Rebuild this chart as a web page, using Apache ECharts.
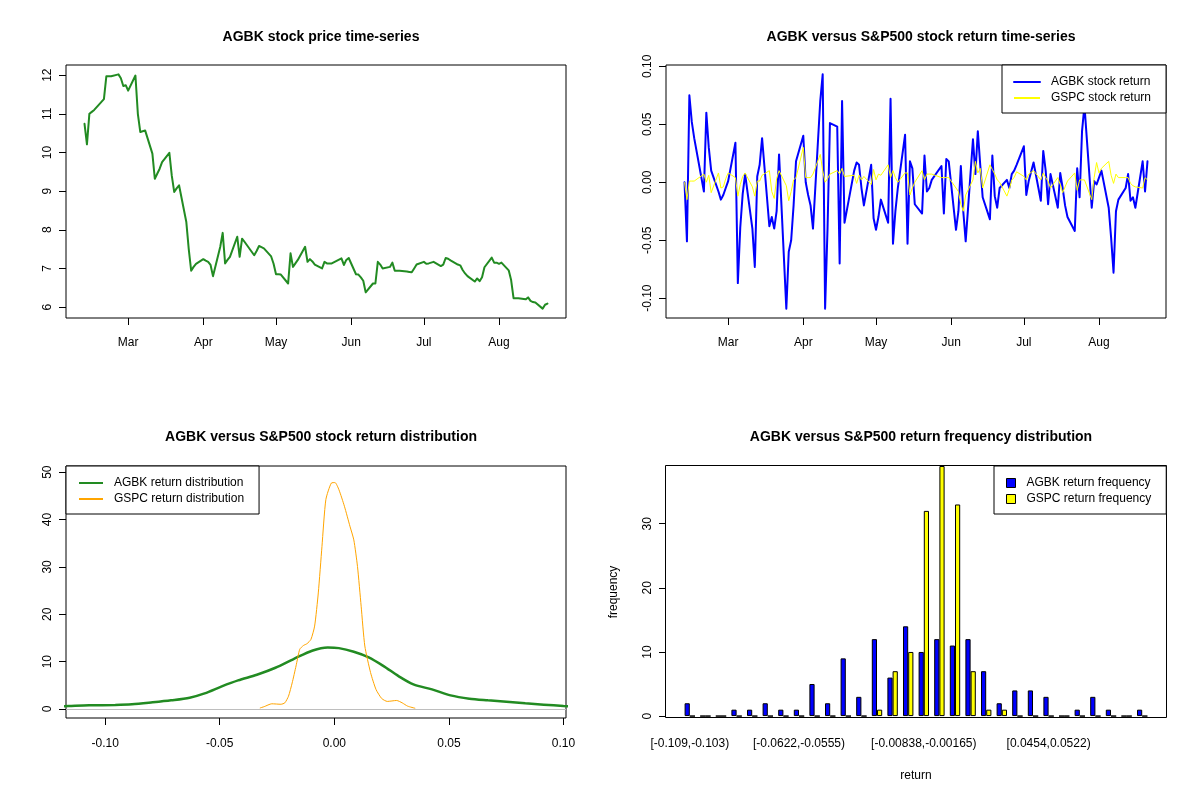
<!DOCTYPE html>
<html>
<head>
<meta charset="utf-8">
<title>AGBK vs S&amp;P500</title>
<script src="https://cdn.jsdelivr.net/npm/echarts@6/dist/echarts.min.js"></script>
<style>
  html, body { margin: 0; padding: 0; background: #fff; }
  #chart { width: 1200px; height: 800px; }
</style>
</head>
<body>
<div id="chart"></div>
<script>
// trading calendar
const firstDay = '2019-02-11';
const lastDay = '2019-08-21';
const holidays = ['2019-02-18', '2019-04-19', '2019-05-27', '2019-07-04'];
const monthTicks = ['2019-03-01', '2019-04-01', '2019-05-01', '2019-06-01', '2019-07-01', '2019-08-01'];
const monthLabels = ['Mar', 'Apr', 'May', 'Jun', 'Jul', 'Aug'];

// AGBK close price, one per trading day
const agbkPrice = [
  10.74, 10.21, 11.00, 11.05, 11.10, 11.38, 11.97, 11.97, 11.97, 12.02, 11.92, 11.72, 11.74,
  11.60, 11.99, 11.00, 10.53, 10.55, 10.57, 9.97, 9.32, 9.45, 9.58, 9.75, 9.99, 9.40, 8.98, 9.07, 9.15, 8.20, 7.50, 6.94, 7.04, 7.12,
  7.24, 7.20, 7.17, 7.09, 6.80, 7.56, 7.92, 7.13, 7.22, 7.30, 7.82, 7.30, 7.77, 7.69, 7.34, 7.45, 7.58, 7.55, 7.52, 7.31, 7.12,
  6.85, 6.85, 6.84, 6.61, 7.39, 7.04, 7.13, 7.22, 7.56, 7.17, 7.24, 7.18, 7.10, 7.00, 7.17, 7.13, 7.13, 7.13, 7.26, 7.09, 7.22, 7.27,
  6.85, 6.84, 6.77, 6.68, 6.38, 6.61, 6.61, 7.17, 7.10, 7.00, 7.04, 7.15, 6.94, 6.94, 6.94, 6.92, 6.91, 6.90, 7.00, 7.10,
  7.17, 7.12, 7.13, 7.17, 7.06, 7.10, 7.27, 7.25, 7.21, 7.10, 7.08, 6.96, 6.87, 6.80, 6.66, 6.74, 6.67, 6.77, 7.03, 7.28, 7.15, 7.15,
  7.12, 7.15, 6.95, 6.70, 6.23, 6.23, 6.23, 6.20, 6.25, 6.16, 6.13, 6.12, 5.96, 6.06, 6.09
];

// daily returns
const agbkReturn = [
  0, -0.051, 0.075, 0.052, 0.038, -0.008, 0.060, 0.030, 0.010, -0.008, -0.015, -0.011, -0.005,
  0.001, 0.034, -0.087, -0.039, -0.010, 0.007, -0.040, -0.073, 0.005, 0.015, 0.038, -0.038, -0.030, -0.040, -0.025, 0.024, -0.109, -0.060, -0.050, -0.020, 0.018,
  0.040, 0.000, -0.011, -0.020, -0.040, 0.070, 0.093, -0.109, -0.040, 0.051, 0.048, -0.070, 0.070, -0.035, 0.010, 0.017, 0.015, -0.005, -0.020, 0.015, -0.031,
  -0.041, -0.030, -0.015, -0.035, 0.072, -0.053, -0.025, -0.005, 0.041, -0.053, 0.018, 0.012, -0.019, -0.027, 0.023, -0.008, -0.005, 0.002, 0.014, -0.027, 0.020, 0.018,
  -0.041, -0.025, 0.014, -0.025, -0.051, 0.037, 0.007, 0.044, 0.015, -0.013, -0.032, 0.023, -0.012, -0.022, -0.005, 0.002, -0.005, 0.007, 0.010, 0.015,
  0.031, -0.011, 0.001, 0.017, -0.016, 0.027, 0.010, -0.019, 0.007, -0.022, 0.008, -0.005, -0.020, -0.030, -0.042, 0.012, -0.013, 0.044, 0.066, -0.022, 0.001, -0.002,
  0.004, 0.010, -0.022, -0.048, -0.078, -0.025, -0.015, -0.005, 0.007, -0.016, -0.013, -0.022, 0.018, -0.008, 0.018
];
const gspcReturn = [
  0.000, -0.015, 0.001, 0.001, 0.001, 0.007, 0.000, 0.006, -0.009, 0.008, -0.005, -0.004, 0.003,
  0.008, 0.004, -0.012, -0.002, 0.005, 0.008, -0.004, -0.012, 0.001, 0.001, 0.006, 0.010, -0.008, -0.014, 0.003, 0.010, -0.003, -0.016, -0.008, 0.002, 0.004,
  0.030, 0.004, 0.004, 0.004, 0.007, 0.024, 0.010, 0.000, 0.003, 0.007, 0.010, 0.007, 0.012, 0.005, 0.006, -0.001, 0.006, 0.002, 0.005, -0.002, 0.011,
  0.002, 0.007, 0.006, 0.015, 0.004, 0.010, 0.004, 0.000, 0.008, 0.008, -0.011, -0.005, 0.000, 0.010, 0.002, 0.007, 0.007, 0.007, 0.004, 0.004, 0.004, 0.004,
  -0.005, -0.008, -0.019, -0.025, -0.011, 0.002, 0.018, 0.008, 0.012, -0.005, 0.015, 0.011, 0.007, 0.002, 0.000, -0.012, -0.006, 0.002, 0.004, 0.009,
  0.005, 0.002, 0.007, 0.010, 0.002, 0.008, 0.004, 0.001, -0.005, 0.004, -0.002, -0.009, -0.004, 0.001, 0.008, -0.007, 0.002, 0.002, 0.002, -0.015, 0.004, 0.017,
  0.008, 0.012, 0.018, 0.006, -0.001, 0.007, 0.004, 0.004, 0.004, -0.001, -0.003, -0.004, -0.005, 0.004, 0.002
];

// kernel density curves
const agbkDensX = [-0.121, -0.1159, -0.107, -0.0956, -0.0883, -0.0793, -0.0712, -0.0631, -0.0566, -0.0491, -0.042, -0.0338, -0.0257,
  -0.0176, -0.0094, -0.0029, 0.002, 0.0085, 0.015, 0.0215, 0.028, 0.0345, 0.0426, 0.0507, 0.0589, 0.067, 0.0751, 0.0833, 0.0914, 0.1, 0.105];
const agbkDensY = [0.55, 0.63, 0.77, 0.84, 0.98, 1.40, 1.83, 2.39, 3.30, 4.78, 6.04, 7.23, 8.71,
  10.6, 12.36, 12.99, 12.85, 12.08, 10.9, 9.06, 6.95, 5.2, 4.14, 2.88, 2.18, 1.83, 1.54, 1.19, 0.91, 0.63, 0.5];
const gspcDensX = [-0.0325, -0.0306, -0.0273, -0.0233, -0.0216, -0.02, -0.0184, -0.0167, -0.0151, -0.0135, -0.0119, -0.0102, -0.0086,
  -0.007, -0.0054, -0.0037, -0.0013, 0.0003, 0.002, 0.0044, 0.0068, 0.0085, 0.0101, 0.0117, 0.0133, 0.0158, 0.0182, 0.0207,
  0.0231, 0.0272, 0.0296, 0.032, 0.0353];
const gspcDensY = [0.2, 0.5, 1.1, 1.0, 1.3, 2.7, 5.5, 9.1, 12.6, 13.4, 13.8, 14.7, 17.5,
  24.5, 34.3, 44.2, 47.7, 47.8, 46.3, 42.8, 38.6, 35.7, 30.1, 21.7, 13.3, 7.7, 4.1, 2.2,
  1.6, 1.8, 1.3, 0.6, 0.15];

// frequency table
const histCats = [
  '[-0.109,-0.103)', '[-0.103,-0.0958)', '[-0.0958,-0.0891)', '[-0.0891,-0.0824)', '[-0.0824,-0.0756)',
  '[-0.0756,-0.0689)', '[-0.0689,-0.0622)', '[-0.0622,-0.0555)', '[-0.0555,-0.0487)', '[-0.0487,-0.042)',
  '[-0.042,-0.0353)', '[-0.0353,-0.0286)', '[-0.0286,-0.0218)', '[-0.0218,-0.0151)', '[-0.0151,-0.00838)',
  '[-0.00838,-0.00165)', '[-0.00165,0.00507)', '[0.00507,0.0118)', '[0.0118,0.0185)', '[0.0185,0.0252)',
  '[0.0252,0.032)', '[0.032,0.0387)', '[0.0387,0.0454)', '[0.0454,0.0522)', '[0.0522,0.0589)',
  '[0.0589,0.0656)', '[0.0656,0.0723)', '[0.0723,0.079)', '[0.079,0.0858)', '[0.0858,0.0925]'
];
const histLabelIdx = [0, 7, 15, 23];
const agbkFreq = [2, 0, 0, 1, 1, 2, 1, 1, 5, 2, 9, 3, 12, 6, 14, 10, 12, 11, 12, 7, 2, 4, 4, 3, 0, 1, 3, 1, 0, 1];
const gspcFreq = [0, 0, 0, 0, 0, 0, 0, 0, 0, 0, 0, 0, 1, 7, 10, 32, 39, 33, 7, 1, 1, 0, 0, 0, 0, 0, 0, 0, 0, 0];

// tick labels
const priceTicks = [6, 7, 8, 9, 10, 11, 12];
const returnTicks = [-0.10, -0.05, 0, 0.05, 0.10];
const densYTicks = [0, 10, 20, 30, 40, 50];
const freqTicks = [0, 10, 20, 30];

function toTime(s) {
  const p = s.split('-').map(Number);
  return new Date(p[0], p[1] - 1, p[2]).getTime();
}

function ymd(d) {
  const m = (d.getMonth() + 1).toString().padStart(2, '0');
  const day = d.getDate().toString().padStart(2, '0');
  return `${d.getFullYear()}-${m}-${day}`;
}

function tradingDays(from, to, skip) {
  const out = [];
  const d = new Date(toTime(from));
  const end = toTime(to);
  while (d.getTime() <= end) {
    const wd = d.getDay();
    if (wd !== 0 && wd !== 6 && skip.indexOf(ymd(d)) < 0) out.push(d.getTime());
    d.setDate(d.getDate() + 1);
  }
  return out;
}

const days = tradingDays(firstDay, lastDay, holidays);
const monthTimes = monthTicks.map(toTime);

// R-style 4% padding of the data range
const padMin = v => v.min - 0.04 * (v.max - v.min);
const padMax = v => v.max + 0.04 * (v.max - v.min);
const allRet = agbkReturn.concat(gspcReturn);
const retMin = Math.min.apply(null, allRet);
const retMax = Math.max.apply(null, allRet);
const retLo = retMin - 0.04 * (retMax - retMin);
const retHi = retMax + 0.04 * (retMax - retMin);

const font = 'Liberation Sans, Arial, Helvetica, sans-serif';
const black = '#000';

const pair = (xs, ys) => xs.map((x, i) => [x, ys[i]]);

function labelStyle(ticks, extra) {
  return Object.assign({ customValues: ticks, color: black, fontSize: 12, fontFamily: font, margin: 12 }, extra);
}

function valueAxis(gridIndex, ticks, extra) {
  return Object.assign({
    type: 'value', gridIndex,
    axisLine: { show: false, onZero: false },
    axisTick: { show: true, length: 7, customValues: ticks, lineStyle: { color: black } },
    splitLine: { show: false }
  }, extra);
}

// dates on a plain value axis, ticks on the first of each month
function dateAxis(gridIndex) {
  return valueAxis(gridIndex, monthTimes, {
    min: padMin, max: padMax,
    axisLabel: labelStyle(monthTimes, { margin: 19, formatter: v => monthLabels[monthTimes.indexOf(v)] || '' })
  });
}

const gridBox = { show: true, borderColor: black, borderWidth: 1, backgroundColor: 'transparent' };
const titleStyle = { fontSize: 14, fontWeight: 'bold', fontFamily: font, color: black };
const legendBase = {
  orient: 'vertical', selectedMode: false, backgroundColor: '#fff',
  borderColor: black, borderWidth: 1, borderRadius: 0, itemGap: 4,
  textStyle: { fontSize: 12, fontFamily: font, color: black, padding: [0, 0, 0, 6] }
};

const chart = echarts.init(document.getElementById('chart'), null, { renderer: 'canvas' });

chart.setOption({
  animation: false,
  backgroundColor: '#fff',
  title: [
    { text: 'AGBK stock price time-series', left: 316, top: 25, textAlign: 'center', textStyle: titleStyle },
    { text: 'AGBK versus S&P500 stock return time-series', left: 916, top: 25, textAlign: 'center', textStyle: titleStyle },
    { text: 'AGBK versus S&P500 stock return distribution', left: 316, top: 425, textAlign: 'center', textStyle: titleStyle },
    { text: 'AGBK versus S&P500 return frequency distribution', left: 916, top: 425, textAlign: 'center', textStyle: titleStyle }
  ],
  grid: [
    Object.assign({ left: 66, top: 65, width: 500, height: 253 }, gridBox),
    Object.assign({ left: 666, top: 65, width: 500, height: 253 }, gridBox),
    Object.assign({ left: 66, top: 466, width: 500, height: 252 }, gridBox),
    { left: 682, top: 466, width: 468, height: 252, show: false }
  ],
  xAxis: [
    dateAxis(0),
    dateAxis(1),
    valueAxis(2, returnTicks, {
      min: retLo, max: retHi,
      axisLabel: labelStyle(returnTicks, { margin: 20, formatter: v => v.toFixed(2) })
    }),
    {
      type: 'category', gridIndex: 3, data: histCats,
      axisLine: { show: false, onZero: false }, axisTick: { show: false },
      axisLabel: {
        color: black, fontSize: 12, fontFamily: font, margin: 20,
        interval: i => histLabelIdx.indexOf(i) >= 0
      },
      name: 'return', nameLocation: 'middle', nameGap: 52,
      nameTextStyle: { fontSize: 12, fontFamily: font, color: black }
    }
  ],
  yAxis: [
    valueAxis(0, priceTicks, { min: padMin, max: padMax, axisLabel: labelStyle(priceTicks, { rotate: 90 }) }),
    valueAxis(1, returnTicks, { min: retLo, max: retHi, axisLabel: labelStyle(returnTicks, { rotate: 90, formatter: v => v.toFixed(2) }) }),
    valueAxis(2, densYTicks, { min: -1.9, max: 51.3, axisLabel: labelStyle(densYTicks, { rotate: 90 }) }),
    valueAxis(3, freqTicks, {
      min: -0.3, max: 39, offset: 16,
      axisLabel: labelStyle(freqTicks, { rotate: 90 }),
      name: 'frequency', nameLocation: 'middle', nameGap: 46, nameRotate: 90,
      nameTextStyle: { fontSize: 12, fontFamily: font, color: black }
    })
  ],
  legend: [
    Object.assign({}, legendBase, {
      data: ['AGBK stock return', 'GSPC stock return'],
      left: 1002, top: 65, padding: [11, 15, 9, 11], itemWidth: 26, itemHeight: 12,
      itemStyle: { opacity: 0 }
    }),
    Object.assign({}, legendBase, {
      data: ['AGBK return distribution', 'GSPC return distribution'],
      left: 66, top: 466, padding: [11, 15, 9, 12], itemWidth: 24, itemHeight: 12,
      itemStyle: { opacity: 0 }
    }),
    Object.assign({}, legendBase, {
      data: ['AGBK return frequency', 'GSPC return frequency'],
      left: 994, top: 466, padding: [11, 15, 9, 12], itemWidth: 9, itemHeight: 9,
      icon: 'rect', itemStyle: { borderColor: black, borderWidth: 1 }
    })
  ],
  graphic: [
    { type: 'rect', shape: { x: 665.5, y: 465.5, width: 501, height: 252 }, style: { fill: 'none', stroke: black, lineWidth: 1 }, silent: true }
  ],
  series: [
    {
      name: 'AGBK price', type: 'line', xAxisIndex: 0, yAxisIndex: 0,
      data: pair(days, agbkPrice), symbol: 'none',
      lineStyle: { color: '#228B22', width: 2, join: 'round', cap: 'round' }
    },
    {
      name: 'AGBK stock return', type: 'line', xAxisIndex: 1, yAxisIndex: 1,
      data: pair(days, agbkReturn), symbol: 'none', color: '#0000FF',
      lineStyle: { color: '#0000FF', width: 2, join: 'round', cap: 'round' }
    },
    {
      name: 'GSPC stock return', type: 'line', xAxisIndex: 1, yAxisIndex: 1,
      data: pair(days, gspcReturn), symbol: 'none', color: '#FFFF00',
      lineStyle: { color: '#FFFF00', width: 1 }
    },
    {
      name: 'AGBK return distribution', type: 'line', xAxisIndex: 2, yAxisIndex: 2,
      data: pair(agbkDensX, agbkDensY), symbol: 'none', smooth: 0.3, color: '#228B22',
      lineStyle: { color: '#228B22', width: 2.5 },
      markLine: {
        silent: true, symbol: 'none', label: { show: false },
        lineStyle: { color: '#BEBEBE', width: 1, type: 'solid' },
        data: [{ yAxis: 0 }]
      }
    },
    {
      name: 'GSPC return distribution', type: 'line', xAxisIndex: 2, yAxisIndex: 2,
      data: pair(gspcDensX, gspcDensY), symbol: 'none', smooth: 0.2, color: '#FFA500',
      lineStyle: { color: '#FFA500', width: 1 }
    },
    {
      name: 'AGBK return frequency', type: 'bar', xAxisIndex: 3, yAxisIndex: 3,
      data: agbkFreq, barWidth: 5.2, barGap: '0%',
      itemStyle: { color: '#0000FF', borderColor: black, borderWidth: 1 }
    },
    {
      name: 'GSPC return frequency', type: 'bar', xAxisIndex: 3, yAxisIndex: 3,
      data: gspcFreq, barWidth: 5.2, barGap: '0%',
      itemStyle: { color: '#FFFF00', borderColor: black, borderWidth: 1 }
    }
  ]
});

if (days.length !== agbkPrice.length) console.warn('day count', days.length, agbkPrice.length);
</script>
</body>
</html>
